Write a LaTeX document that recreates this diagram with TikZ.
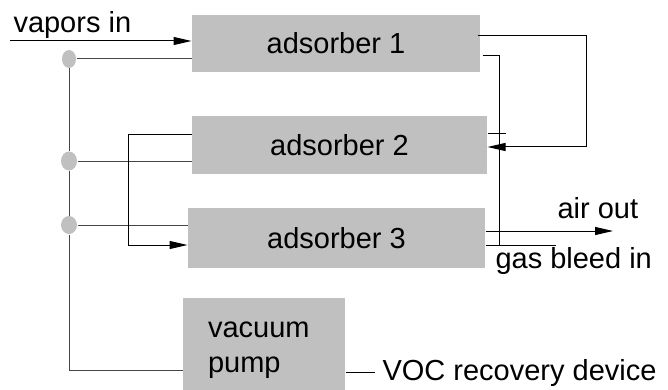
\documentclass[tikz,border=0pt]{standalone}
\usepackage{fontspec}
\setmainfont{Liberation Sans}
\usepackage{xcolor}
\usetikzlibrary{
    arrows.meta,
    shapes.geometric,
    positioning
}
\definecolor{boxgray}{RGB}{192,192,192}
\definecolor{pipegray}{RGB}{70,70,70}

\begin{document}
\begin{tikzpicture}[x=1pt, y=-1pt, line width=1pt,
        font=\fontsize{29}{35}\selectfont,
        >={Triangle[length=18pt,width=8pt]},
        tank/.style={rectangle, fill=boxgray, inner sep=0pt},
        tee/.style={ellipse, fill=boxgray, inner sep=0pt, minimum width=14pt, minimum height=18pt},
        lbl/.style={inner sep=0pt, anchor=base west}]
                        \useasboundingbox (0, 0) rectangle (668, 390);

                        \node[tank, minimum width=288pt, minimum height=57pt] (ads1) at (336, 43.5) {adsorber 1};
                        \node[tank, minimum width=295pt, minimum height=58pt] (ads2) at (339.5, 145) {adsorber 2};
                        \node[tank, minimum width=297pt, minimum height=60pt] (ads3) at (336.5, 238) {adsorber 3};
                        \node[tank, minimum height=104pt, text width=112pt, inner xsep=25pt, align=left] (pump) at (264, 350) {vacuum\\pump};

                        \node[tee] (dot1) at (69, 59) {};
                        \node[tee, minimum width=16pt, minimum height=19pt] (dot2) at (69, 161) {};
                        \node[tee, minimum width=16pt] (dot3) at (69, 225) {};

                        \node[lbl] (vin) at (13, 33) {vapors in};
                        \node[lbl] (aout) at (557, 218) {air out};
                        \node[lbl] (bleed) at (495, 268) {gas bleed in};
                        \node[lbl] (voc) at (382, 380) {VOC recovery device};

                        \coordinate (vstart) at (10, 41);
                        \coordinate (aend) at (613, 231);
                        \coordinate (bend) at (556, 245);
                        \coordinate (vocend) at (375, 372);

                        \draw
                        (vstart) edge[->] (vstart -| ads1.west)
                        ([yshift=7pt]ads3.east) edge[->] (aend)
                        ([yshift=-7pt]ads3.east) edge (bend)
                        ([yshift=11pt]ads2.east) edge ++(18, 0)
                        (vocend -| pump.east) edge (vocend);

                        \draw[pipegray]
                        (dot1) edge (dot1 -| ads1.west)
                        (dot2) edge (dot2 -| ads2.west)
                        (dot3) edge (dot3 -| ads3.west);
                        \draw[pipegray] (dot1) -- (dot2) -- (dot3) |- ([yshift=-20pt]pump.west);

                        \draw[->] ([yshift=10pt]ads2.west) -- (128, 135) |- ([yshift=-7pt]ads3.west);
                        \draw[->] ([xshift=-3pt, yshift=7.5pt]ads1.east) -| (586, 147) -- ([yshift=-2pt]ads2.east);
                        \draw ([xshift=2pt, yshift=-12.5pt]ads1.east) -| (499, 245);
                    \end{tikzpicture}
\end{document}
